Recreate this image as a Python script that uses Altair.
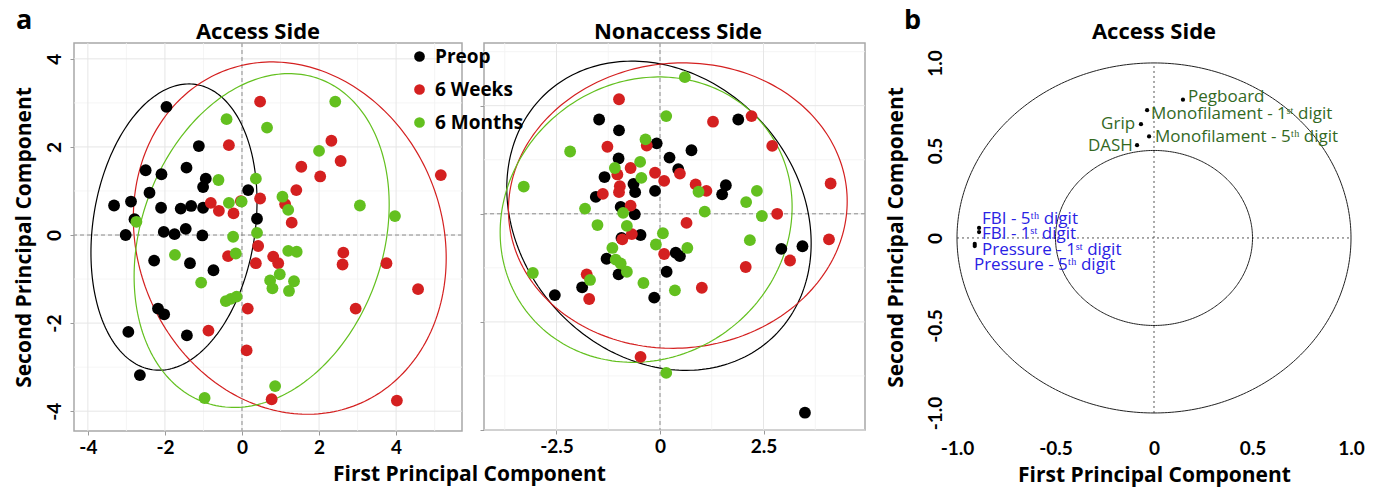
import numpy as np
import pandas as pd
import altair as alt

FONT = "Lato"
TFONT = "Open Sans"
GROUPS = ["Preop", "6 Weeks", "6 Months"]
COLORS = ["#000000", "#d42020", "#63c01f"]

# ---------------- Panel a : Access side scores ----------------
acc_pre_x = [-1.96, -1.12, -2.5, -2.09, -1.44, -0.94, -1.01, -2.4, 0.16, -3.32, -2.88, -2.1, -1.59, -1.32, -1.01,
             -2.79, 0.39, -3.02, -2.03, -1.75, -1.46, -1.03, -2.28, -1.35, -0.74, -2.18, -2.02, -2.95, -1.43, -2.65]
acc_pre_y = [2.91, 2.02, 1.47, 1.38, 1.53, 1.28, 1.09, 0.96, 1.02, 0.67, 0.76, 0.62, 0.6, 0.66, 0.62,
             0.36, 0.37, 0.0, 0.07, 0.02, 0.14, -0.01, -0.58, -0.64, -0.8, -1.67, -1.8, -2.2, -2.28, -3.18]
acc_6w_x = [0.47, -0.34, 2.32, 2.56, 1.54, 2.03, 5.16, 1.41, 0.47, -0.81, -0.6, -0.22, -0.03, 1.12, 1.29,
            0.42, -0.36, 0.36, 0.81, 0.94, 2.63, 2.61, 3.75, 4.57, 0.15, 2.95, -0.87, 0.12, 0.77, 4.02]
acc_6w_y = [3.03, 2.04, 2.14, 1.68, 1.55, 1.33, 1.36, 1.02, 0.83, 0.73, 0.55, 0.49, 0.77, 0.7, 0.28,
            -0.25, -0.48, -0.64, -0.49, -0.64, -0.4, -0.67, -0.64, -1.23, -1.67, -1.67, -2.17, -2.62, -3.73, -3.76]
acc_6m_x = [2.42, -0.4, 0.65, 2.0, -0.61, 0.36, 1.05, 1.2, -0.34, -0.01, 3.06, 3.97, -2.74, -0.23, 0.39,
            -1.74, -0.16, 1.2, 1.42, -1.06, 0.98, 0.73, 1.35, 0.79, 1.22, -0.42, -0.29, -0.14, 0.86, -0.97]
acc_6m_y = [3.03, 2.63, 2.44, 1.91, 1.25, 1.28, 0.87, 0.57, 0.73, 0.76, 0.67, 0.43, 0.3, -0.04, 0.05,
            -0.45, -0.42, -0.36, -0.38, -1.08, -0.89, -1.03, -1.05, -1.21, -1.27, -1.5, -1.45, -1.4, -3.43, -3.7]

# ---------------- Panel a : Nonaccess side scores ----------------
non_pre_x = [-1.47, -0.99, -0.08, 1.89, 0.76, 0.23, -1.0, 0.44, -1.34, -0.64, -0.6, -0.12, 1.59, 1.5, -1.55,
             -0.95, -0.61, -0.47, -0.93, 0.38, 0.48, -1.29, -1.0, 0.16, -1.88, -2.54, -0.14, 2.93, 3.44, 3.5]
non_pre_y = [2.18, 1.93, 1.63, 2.18, 1.47, 1.3, 1.28, 1.03, 0.85, 0.69, 0.5, 0.53, 0.66, 0.45, 0.39,
             0.16, -0.01, -0.49, -0.56, -0.9, -0.98, -1.04, -1.4, -1.34, -1.7, -1.88, -1.94, -0.81, -0.75, -4.6]
non_6w_x = [-0.99, 1.28, 2.21, -1.27, -0.32, 2.71, -0.71, -1.03, -0.12, 0.1, 0.48, -0.97, -0.99, -1.38, 0.86,
            1.12, 4.12, -0.71, 2.83, 0.64, 4.08, -0.91, -0.68, 0.1, 3.14, 2.07, -1.77, 1.01, -1.71, -0.47]
non_6w_y = [2.65, 2.13, 2.26, 1.55, 1.58, 1.57, 1.06, 0.91, 0.95, 0.76, 0.93, 0.64, 0.5, 0.46, 0.68,
            0.53, 0.7, 0.19, 0.0, -0.21, -0.59, -0.59, -0.47, -0.93, -1.08, -1.23, -1.4, -1.71, -1.97, -3.31]
non_6m_x = [0.6, 0.15, -2.17, -0.35, -0.48, -1.09, -0.45, -3.29, 0.93, 2.34, 2.08, -1.81, 1.08, 2.46, -0.89,
            -1.51, -0.8, 0.07, 2.17, -1.15, -0.1, 0.66, -1.07, -0.95, -0.8, -3.07, -1.69, -0.4, 0.36, 0.15]
non_6m_y = [3.16, 2.26, 1.44, 1.72, 1.2, 1.06, 0.83, 0.63, 0.51, 0.53, 0.27, 0.12, 0.05, -0.05, 0.02,
            -0.26, -0.28, -0.45, -0.61, -0.79, -0.71, -0.79, -1.06, -1.15, -1.34, -1.37, -1.53, -1.6, -1.77, -3.68]

# Ellipse parameters (centre, half x-extent, half y-extent, tilt cosine) per group
acc_ell_cx = [-1.765, 1.24, 0.51]
acc_ell_cy = [0.18, -0.07, -0.125]
acc_ell_xr = [2.155, 4.06, 3.31]
acc_ell_yr = [3.25, 4.0, 3.79]
acc_ell_c = [0.179, -0.113, 0.215]
non_ell_cx = [-0.025, 0.43, -0.335]
non_ell_cy = [-0.045, 0.19, -0.135]
non_ell_xr = [3.675, 4.09, 3.525]
non_ell_yr = [3.575, 3.3, 3.3]
non_ell_c = [-0.178, 0.03, 0.089]

# ---------------- Panel b : loadings ----------------
load_names = ["Pegboard", "Monofilament - 1\u02e2\u1d57 digit", "Grip", "Monofilament - 5\u1d57\u02b0 digit", "DASH",
              "FBI - 5\u1d57\u02b0 digit", "FBI - 1\u02e2\u1d57 digit", "Pressure - 1\u02e2\u1d57 digit",
              "Pressure - 5\u1d57\u02b0 digit"]
load_kind = ["function", "function", "function", "function", "function", "vascular", "vascular", "vascular", "vascular"]
load_x = [0.147, -0.035, -0.066, -0.025, -0.086, -0.888, -0.888, -0.91, -0.91]
load_y = [0.79, 0.73, 0.65, 0.58, 0.53, 0.057, 0.034, -0.034, -0.046]
label_x = [0.173, -0.015, -0.096, 0.005, -0.107, -0.873, -0.873, -0.873, -0.914]
label_y = [0.806, 0.709, 0.651, 0.577, 0.526, 0.109, 0.023, -0.069, -0.154]
right_aligned = ["Grip", "DASH"]
kind_colors = {"function": "#33691f", "vascular": "#2a22e4"}
circle_radii = [1.0, 0.5]


def pts_df(xs_list, ys_list):
    frames = [pd.DataFrame({"x": xs, "y": ys, "group": g}) for g, xs, ys in zip(GROUPS, xs_list, ys_list)]
    return pd.concat(frames, ignore_index=True)


def ellipse_df(cx, cy, xr, yr, cphi):
    t = np.linspace(0, 2 * np.pi, 241)
    frames = []
    for g, a, b, c, d, e in zip(GROUPS, cx, cy, xr, yr, cphi):
        phi = np.arccos(e)
        frames.append(pd.DataFrame({"x": a + c * np.cos(t), "y": b + d * np.cos(t - phi),
                                    "group": g, "i": np.arange(len(t))}))
    return pd.concat(frames, ignore_index=True)


int_label = "(datum.value < 0 ? '-' : '') + abs(datum.value)"
dec_label = "datum.value == 0 ? '0' : (datum.value < 0 ? '-' : '') + format(abs(datum.value), '.1f')"

color_scale = alt.Scale(domain=GROUPS, range=COLORS)
legend = alt.Legend(orient="none", legendX=336, legendY=4, title=None, labelFont=TFONT, labelFontSize=19,
                    labelFontWeight="bold", labelColor="black", symbolSize=115, symbolType="circle",
                    rowPadding=13, labelOffset=6, symbolStrokeWidth=0, symbolOpacity=1)


def text_at(txt, x, y, size, align="center"):
    return alt.Chart(pd.DataFrame({"t": [txt]})).mark_text(
        font=TFONT, fontSize=size, fontWeight="bold", align=align, baseline="alphabetic", color="black"
    ).encode(x=alt.value(x), y=alt.value(y), text="t:N")


def scatter_panel(pts, ell, xdom, ydom, xmaj, xmin, ymaj, ymin, width, height, title, title_x, left):
    xkw = dict(values=xmaj, grid=False, domain=False, ticks=True, tickColor="#9a9a9a", tickSize=4,
               labelExpr=int_label if left else dec_label, labelFont=FONT, labelFontSize=19,
               labelFontWeight="bold", labelColor="black", labelPadding=3, labelFlush=False)
    if left:
        xkw.update(title="First Principal Component", titleX=395, titleFont=TFONT, titleFontSize=21,
                   titleFontWeight="bold", titleColor="black", titlePadding=6)
    else:
        xkw.update(title=None)
    ykw = dict(values=ymaj, grid=False, domain=False, ticks=True, tickColor="#9a9a9a", tickSize=4)
    if left:
        ykw.update(labelExpr=int_label, labelFont=FONT, labelFontSize=19, labelFontWeight="bold",
                   labelColor="black", labelAngle=-90, labelPadding=6, labelFlush=False,
                   title="Second Principal Component", titleFont=TFONT, titleFontSize=21,
                   titleFontWeight="bold", titleColor="black", titlePadding=11)
    else:
        ykw.update(labels=False, title=None)
    X = alt.X("x:Q", scale=alt.Scale(domain=xdom, nice=False, zero=False), axis=alt.Axis(**xkw))
    Y = alt.Y("y:Q", scale=alt.Scale(domain=ydom, nice=False, zero=False), axis=alt.Axis(**ykw))

    layers = [
        alt.Chart(pd.DataFrame({"x": xmin})).mark_rule(color="#f3f3f3", strokeWidth=0.8).encode(x=X),
        alt.Chart(pd.DataFrame({"y": ymin})).mark_rule(color="#f3f3f3", strokeWidth=0.8).encode(y=Y),
        alt.Chart(pd.DataFrame({"x": xmaj})).mark_rule(color="#e6e6e6", strokeWidth=1).encode(x=X),
        alt.Chart(pd.DataFrame({"y": ymaj})).mark_rule(color="#e6e6e6", strokeWidth=1).encode(y=Y),
        alt.Chart(pd.DataFrame({"x": [0]})).mark_rule(color="#8c8c8c", strokeDash=[4, 3], strokeWidth=1).encode(x=X),
        alt.Chart(pd.DataFrame({"y": [0]})).mark_rule(color="#8c8c8c", strokeDash=[4, 3], strokeWidth=1).encode(y=Y),
    ]
    for g, col in zip(GROUPS, COLORS):
        layers.append(alt.Chart(ell[ell["group"] == g]).mark_line(strokeWidth=1.2, color=col).encode(
            x=X, y=Y, order=alt.Order("i:Q")))
    layers.append(alt.Chart(pts).mark_circle(size=140, opacity=1).encode(
        x=X, y=Y, color=alt.Color("group:N", scale=color_scale, legend=legend)))
    layers.append(text_at(title, title_x, -4, 22))
    if left:
        layers.append(text_at("a", -58, -14, 27, "left"))
    return alt.layer(*layers).properties(
        width=width, height=height,
        view=alt.ViewBackground(stroke="#a8a8a8", strokeWidth=1.5),
    )


left = scatter_panel(pts_df([acc_pre_x, acc_6w_x, acc_6m_x], [acc_pre_y, acc_6w_y, acc_6m_y]),
                     ellipse_df(acc_ell_cx, acc_ell_cy, acc_ell_xr, acc_ell_yr, acc_ell_c),
                     [-4.36, 5.71], [-4.45, 4.36], [-4, -2, 0, 2, 4], [-3, -1, 1, 3, 5],
                     [4, 2, 0, -2, -4], [3, 1, -1, -3], 388, 388, "Access Side", 184, True)
mid = scatter_panel(pts_df([non_pre_x, non_6w_x, non_6m_x], [non_pre_y, non_6w_y, non_6m_y]),
                    ellipse_df(non_ell_cx, non_ell_cy, non_ell_xr, non_ell_yr, non_ell_c),
                    [-4.25, 4.95], [-5.0, 3.95], [-2.5, 0, 2.5], [-3.75, -1.25, 1.25, 3.75],
                    [2.5, 0, -2.5, -5], [3.75, 1.25, -1.25, -3.75], 381, 387, "Nonaccess Side", 194, False)

spacer = alt.Chart(pd.DataFrame({"v": [0]})).mark_point(opacity=0).encode(
    x=alt.value(0), y=alt.value(0)).properties(width=48, height=388,
                                               view=alt.ViewBackground(stroke="transparent"))

# Panel b
bt = np.linspace(0, 2 * np.pi, 361)
circ = pd.concat([pd.DataFrame({"x": r * np.cos(bt), "y": r * np.sin(bt), "r": str(r), "i": np.arange(len(bt))})
                  for r in circle_radii], ignore_index=True)
loads = pd.DataFrame({"name": load_names, "kind": load_kind, "x": load_x, "y": load_y,
                      "lx": label_x, "ly": label_y})

bticks = [-1.0, -0.5, 0.0, 0.5, 1.0]
bxs = alt.Scale(domain=[-1.0, 1.0], nice=False, zero=False)
bys = alt.Scale(domain=[-1.103, 1.114], nice=False, zero=False)
BX = alt.X("x:Q", scale=bxs,
           axis=alt.Axis(values=bticks, grid=False, domain=False, ticks=False, labelExpr=dec_label,
                         labelFont=FONT, labelFontSize=19, labelFontWeight="bold", labelColor="black",
                         labelPadding=8, labelFlush=False, title="First Principal Component", titleFont=TFONT,
                         titleFontSize=21, titleFontWeight="bold", titleColor="black", titlePadding=6))
BY = alt.Y("y:Q", scale=bys,
           axis=alt.Axis(values=bticks, grid=False, domain=False, ticks=False, labelExpr=dec_label,
                         labelFont=FONT, labelFontSize=19, labelFontWeight="bold", labelColor="black",
                         labelAngle=-90, labelPadding=12, labelFlush=False, title="Second Principal Component",
                         titleFont=TFONT, titleFontSize=21, titleFontWeight="bold", titleColor="black",
                         titlePadding=20))

b_layers = [
    alt.Chart(pd.DataFrame({"x": [0.0], "y": [-1.0], "y2": [1.0]})).mark_rule(
        color="#555555", strokeDash=[2, 3], strokeWidth=1).encode(x=BX, y=BY, y2="y2:Q"),
    alt.Chart(pd.DataFrame({"x": [-1.0], "x2": [1.0], "y": [0.0]})).mark_rule(
        color="#555555", strokeDash=[2, 3], strokeWidth=1).encode(x=BX, x2="x2:Q", y=BY),
    alt.Chart(circ).mark_line(color="#222222", strokeWidth=1).encode(x=BX, y=BY, detail="r:N", order=alt.Order("i:Q")),
    alt.Chart(loads).mark_circle(size=18, color="black", opacity=1).encode(x=BX, y=BY),
]
for kind, col in kind_colors.items():
    sub = loads[loads["kind"] == kind]
    for align, part in (("right", sub[sub["name"].isin(right_aligned)]), ("left", sub[~sub["name"].isin(right_aligned)])):
        if len(part) == 0:
            continue
        b_layers.append(alt.Chart(part).mark_text(font=TFONT, fontSize=17, align=align, baseline="middle",
                                                  color=col).encode(
            x=alt.X("lx:Q", scale=bxs), y=alt.Y("ly:Q", scale=bys), text="name:N"))
b_layers.append(text_at("Access Side", 197, -4, 22))
b_layers.append(text_at("b", -53, -14, 27, "left"))

right = alt.layer(*b_layers).properties(
    width=394, height=388,
    view=alt.ViewBackground(stroke="transparent"),
)

chart = alt.hconcat(left, mid, spacer, right, spacing=22, bounds="flush").configure(
    padding={"left": 12, "top": 6, "right": 4, "bottom": 2}, background="white", font=FONT
).configure_view(stroke=None)

chart.save("out.html", embed_options={"renderer": "svg", "actions": False})
